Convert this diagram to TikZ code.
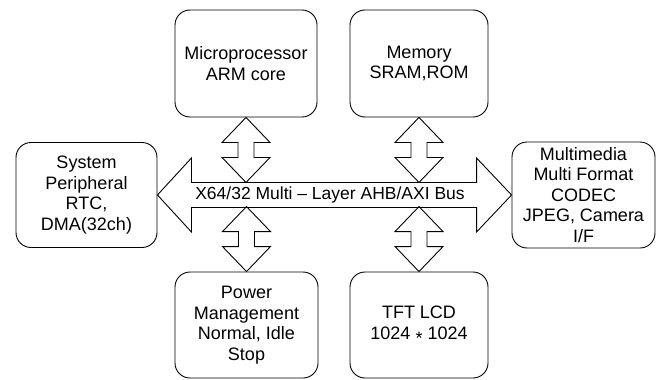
\documentclass[tikz,border=0pt]{standalone}
\usepackage{fontspec}
\setmainfont{Liberation Sans}
\usetikzlibrary{calc}
\begin{document}
\begin{tikzpicture}[x=1pt,y=-1pt,
  box/.style={draw, rounded corners=15pt, line width=0.9pt, align=center, inner sep=0pt,
    font=\fontsize{18}{20.5}\selectfont},
  blk/.style={draw, line width=0.9pt, line join=miter},
  vbus/.pic={\draw[blk] (0,0) -- (24,25) -- (8,25) -- (8,40) -- (24,40) -- (0,65)
     -- (-24,40) -- (-8,40) -- (-8,25) -- (-24,25) -- cycle;}]
\useasboundingbox (0,0) rectangle (661,380);
\node[box, minimum width=142pt, minimum height=107pt] (micro) at (246,63.5) {Microprocessor\\ARM core};
\node[box, minimum width=138pt, minimum height=107pt] (mem) at (419,63.5) {Memory\\SRAM,ROM};
\node[box, minimum width=143pt, minimum height=106pt] (power) at (246.5,325) {Power\\Management\\Normal, Idle\\Stop};
\node[box, minimum width=138pt, minimum height=106pt] (tft) at (419,325) {TFT LCD\\1024 \raisebox{-0.28em}{*} 1024};
\node[box, minimum width=141pt, minimum height=105pt] (sys) at (86.5,195) {System\\Peripheral\\RTC,\\DMA(32ch)};
\node[box, minimum width=143pt, minimum height=106pt] (mm) at (583.5,195) {Multimedia\\Multi Format\\CODEC\\JPEG, Camera\\I/F};
% bus
\draw[blk] (sys.east) -- ++(34,-37) -- ++(0,24.5) -- ($(mm.west)+(-35,-12.5)$) -- ++(0,-24.5)
  -- (mm.west) -- ++(-35,37) -- ++(0,-24.5) -- ($(sys.east)+(34,12.5)$) -- ++(0,24.5) -- cycle;
\node[font=\fontsize{17.5}{20.5}\selectfont, inner sep=0pt] (bus) at (330,194.5) {X64/32 Multi – Layer AHB/AXI Bus};
% vertical arrows
\pic at (micro.south) {vbus};
\pic at (mem.south) {vbus};
\pic[yscale=-1] at (power.north) {vbus};
\pic[yscale=-1] at (tft.north) {vbus};
\end{tikzpicture}
\end{document}
